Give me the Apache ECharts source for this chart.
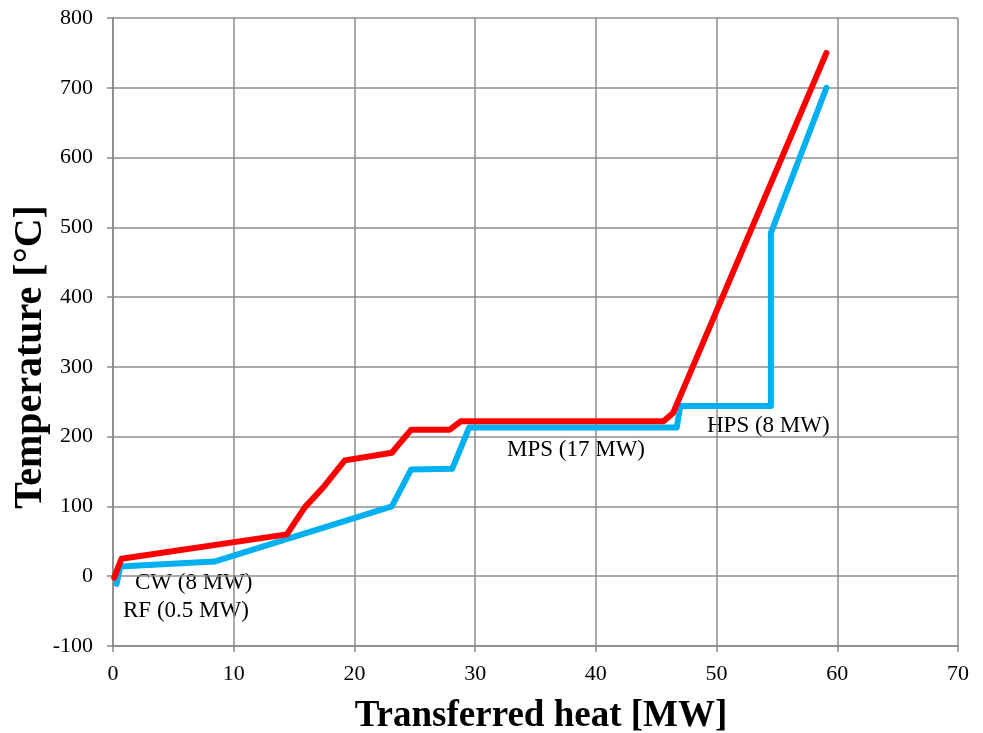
<!DOCTYPE html>
<html><head><meta charset="utf-8">
<script src="https://cdn.jsdelivr.net/npm/echarts@6/dist/echarts.min.js"></script>
<style>html,body{margin:0;padding:0;background:#fff}#c{width:983px;height:733px}</style>
</head><body><div id="c"></div>
<script>
const hotX = [0.1, 0.7, 14.4, 15.9, 17.4, 19.2, 23.1, 24.7, 27.9, 28.8, 45.6, 46.4, 59.1];
const hotT = [-2, 25, 60, 99, 127, 166, 177, 210, 210, 222, 222, 234, 750];
const coldX = [0.3, 0.6, 8.4, 23.1, 24.7, 28.1, 29.5, 46.7, 47.0, 54.5, 54.5, 59.1];
const coldT = [-11, 14, 21, 100, 153, 154, 213, 213, 244, 244, 492, 700];
const xTicks = [0, 10, 20, 30, 40, 50, 60, 70];
const yTicks = [-100, 0, 100, 200, 300, 400, 500, 600, 700, 800];
const xTitle = 'Transferred heat [MW]';
const yTitle = 'Temperature [°C]';
const annotations = [
  {text: 'CW (8 MW)', x: 135, y: 583},
  {text: 'RF (0.5 MW)', x: 123, y: 611},
  {text: 'MPS (17 MW)', x: 507, y: 450},
  {text: 'HPS (8 MW)', x: 707, y: 426}
];
const font = '"Liberation Serif", "Times New Roman", serif';
const chart = echarts.init(document.getElementById('c'));
chart.setOption({
  animation: false,
  grid: {left: 113, right: 25, top: 18, bottom: 87},
  xAxis: {
    type: 'value', min: xTicks[0], max: xTicks[xTicks.length - 1], interval: 10,
    axisLine: {onZero: false, lineStyle: {color: '#888', width: 1.5}},
    axisTick: {show: true, length: 6, lineStyle: {color: '#888', width: 1.5}},
    axisLabel: {fontFamily: font, fontSize: 22, color: '#000', margin: 17},
    splitLine: {lineStyle: {color: '#8c8c8c', width: 1.5}}
  },
  yAxis: {
    type: 'value', min: yTicks[0], max: yTicks[yTicks.length - 1], interval: 100,
    axisLine: {show: true, lineStyle: {color: '#888', width: 1.5}},
    axisTick: {show: true, length: 6, lineStyle: {color: '#888', width: 1.5}},
    axisLabel: {fontFamily: font, fontSize: 22, color: '#000', margin: 20},
    splitLine: {lineStyle: {color: '#8c8c8c', width: 1.5}}
  },
  series: [
    {type: 'line', data: coldX.map((x, i) => [x, coldT[i]]), showSymbol: false,
     lineStyle: {color: '#00b0f0', width: 6, cap: 'round', join: 'round'}},
    {type: 'line', data: hotX.map((x, i) => [x, hotT[i]]), showSymbol: false,
     lineStyle: {color: '#ff0000', width: 6, cap: 'round', join: 'round'}}
  ],
  graphic: annotations.map(a => ({
    type: 'text', x: a.x, y: a.y,
    style: {text: a.text, font: '23px ' + font, fill: '#000', verticalAlign: 'middle'}
  })).concat([
    {type: 'text', x: 541, y: 716,
     style: {text: xTitle, font: 'bold 37px ' + font, fill: '#000', align: 'center', verticalAlign: 'middle'}},
    {type: 'text', x: 31, y: 357, rotation: Math.PI / 2,
     style: {text: yTitle, font: 'bold 40px ' + font, fill: '#000', align: 'center', verticalAlign: 'middle'}}
  ])
});
</script></body></html>
